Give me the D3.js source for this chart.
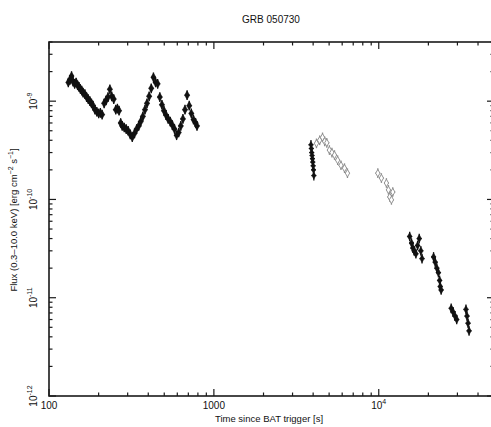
<!DOCTYPE html>
<html lang="en">
<head>
<meta charset="UTF-8">
<title>GRB 050730</title>
<script src="https://d3js.org/d3.v7.min.js"></script>
<style>
  body { margin: 0; background: #fff; }
  text { font-family: "Liberation Sans", Arial, sans-serif; fill: #111; }
</style>
</head>
<body>
<script>
// data (time in s, flux in erg cm^-2 s^-1)
var earlyTime = [131,134,137,140,143,146,149,152,155,158,161,165,169,173,177,181,185,190,195,200,205,210,216,222,228,234,240,247,254,260,266,272,278,286,294,302,311,320,330,340,350,360,371,382,393,405,417,430,443,456,470,484,498,513,528,544,560,577,594,612,630,649,668,688,709,730,752,775,790];
var earlyFlux = [1.55,1.65,1.80,1.58,1.50,1.55,1.45,1.40,1.33,1.28,1.22,1.18,1.10,1.05,1.00,0.95,0.90,0.82,0.78,0.75,0.76,0.73,0.95,1.02,1.10,1.32,1.12,1.05,0.82,0.84,0.80,0.60,0.56,0.54,0.52,0.50,0.46,0.43,0.47,0.52,0.56,0.62,0.70,0.82,0.95,1.12,1.35,1.75,1.55,1.50,1.10,0.92,0.80,0.72,0.66,0.62,0.57,0.52,0.45,0.48,0.56,0.66,0.82,1.15,0.90,0.75,0.65,0.60,0.56].map(function (v) { return v * 1e-9; });

var orbitTime = [3880,3900,3920,3940,3960,3980,4000,4020,4040];
var orbitFlux = [3.6,3.3,3.0,2.8,2.6,2.4,2.2,2.0,1.75].map(function (v) { return v * 1e-10; });

var greyTime = [4190,4380,4560,4700,4840,5020,5200,5390,5630,5900,6200,6460,9870,10380,11130,11450,11660,11940,12160];
var greyFlux = [3.72,4.0,4.28,3.9,3.77,3.18,3.0,2.83,2.51,2.23,2.08,1.85,1.85,1.65,1.47,1.25,1.06,0.99,1.19].map(function (v) { return v * 1e-10; });

var lateTime = [15400,15800,16100,16400,16800,17200,17600,18000,18300,21500,22000,22500,23000,23400,23600,23900,27500,28200,29000,29700,33800,34300,34800,35300];
var lateFlux = [4.2,3.6,3.2,3.0,2.8,3.4,4.0,3.0,2.5,2.6,2.3,2.0,1.8,1.5,1.3,1.2,0.78,0.72,0.65,0.60,0.76,0.65,0.55,0.46].map(function (v) { return v * 1e-11; });

var xTickValues = [100, 1000, 10000];
var xTickLabels = ["100", "1000", "10^4"];
var yTickValues = [1e-12, 1e-11, 1e-10, 1e-9];
var yTickLabels = ["10^-12", "10^-11", "10^-10", "10^-9"];

var W = 491, H = 427;
var svg = d3.select("body").append("svg").attr("width", W).attr("height", H);

var x = d3.scaleLog().domain([100, 5e4]).range([49, 494]);
var y = d3.scaleLog().domain([1e-12, 4e-9]).range([396, 42]);

var ink = "#1a1a1a";

// minor / major ticks
var xMinor = [], yMinor = [];
[100, 1000, 10000].forEach(function (d) {
  for (var k = 2; k <= 9; k++) if (d * k <= 5e4) xMinor.push(d * k);
});
[1e-12, 1e-11, 1e-10, 1e-9].forEach(function (d) {
  for (var k = 2; k <= 9; k++) if (d * k <= 4e-9) yMinor.push(d * k);
});

var ticks = svg.append("g").attr("stroke", ink).attr("stroke-width", 1.2);
xTickValues.concat(xMinor).forEach(function (d) {
  var len = xTickValues.indexOf(d) >= 0 ? 7 : 3.5;
  ticks.append("line").attr("x1", x(d)).attr("x2", x(d)).attr("y1", 396).attr("y2", 396 - len);
  ticks.append("line").attr("x1", x(d)).attr("x2", x(d)).attr("y1", 42).attr("y2", 42 + len);
});
yTickValues.concat(yMinor).forEach(function (d) {
  var len = yTickValues.indexOf(d) >= 0 ? 7 : 3.5;
  ticks.append("line").attr("x1", 49).attr("x2", 49 + len).attr("y1", y(d)).attr("y2", y(d));
  ticks.append("line").attr("x1", 494).attr("x2", 494 - len).attr("y1", y(d)).attr("y2", y(d));
});

// frame
svg.append("rect").attr("x", 49).attr("y", 42).attr("width", 445).attr("height", 354)
  .attr("fill", "none").attr("stroke", ink).attr("stroke-width", 1.6);

function powLabel(sel, s) {
  var parts = s.split("^");
  sel.append("tspan").text(parts[0]);
  if (parts[1]) sel.append("tspan").attr("dy", -5).attr("font-size", 7).text(parts[1]);
}

// x tick labels
xTickValues.forEach(function (d, i) {
  var t = svg.append("text").attr("x", x(d)).attr("y", 409)
    .attr("text-anchor", "middle").attr("font-size", 10);
  powLabel(t, xTickLabels[i]);
});

// y tick labels (rotated)
yTickValues.forEach(function (d, i) {
  var t = svg.append("text")
    .attr("transform", "translate(37," + y(d) + ") rotate(-90)")
    .attr("text-anchor", "middle").attr("font-size", 10);
  powLabel(t, yTickLabels[i]);
});

// titles
svg.append("text").attr("x", 271).attr("y", 23).attr("text-anchor", "middle")
  .attr("font-size", 10).text("GRB 050730");
svg.append("text").attr("x", 269).attr("y", 422).attr("text-anchor", "middle")
  .attr("font-size", 9.5).text("Time since BAT trigger [s]");

var yl = svg.append("text").attr("transform", "translate(17,220) rotate(-90)")
  .attr("text-anchor", "middle").attr("font-size", 9.5);
yl.append("tspan").text("Flux (0.3\u201310.0 keV) [erg cm");
yl.append("tspan").attr("dy", -4).attr("font-size", 7).text("\u22122");
yl.append("tspan").attr("dy", 4).text(" s");
yl.append("tspan").attr("dy", -4).attr("font-size", 7).text("\u22121");
yl.append("tspan").attr("dy", 4).text("]");

// data points with error bars
var diamond = d3.symbol().type(d3.symbolDiamond);

function drawSet(ts, fs, colour, open, size) {
  var pts = ts.map(function (t, i) { return { t: t, f: fs[i] }; });
  var g = svg.append("g");
  g.selectAll("line.ev").data(pts).enter().append("line")
    .attr("x1", function (d) { return x(d.t); }).attr("x2", function (d) { return x(d.t); })
    .attr("y1", function (d) { return y(d.f * 1.12); }).attr("y2", function (d) { return y(d.f / 1.12); })
    .attr("stroke", colour).attr("stroke-width", 1.3);
  g.selectAll("line.eh").data(pts).enter().append("line")
    .attr("x1", function (d) { return x(d.t) - 2.5; }).attr("x2", function (d) { return x(d.t) + 2.5; })
    .attr("y1", function (d) { return y(d.f); }).attr("y2", function (d) { return y(d.f); })
    .attr("stroke", colour).attr("stroke-width", 1.3);
  g.selectAll("path").data(pts).enter().append("path")
    .attr("transform", function (d) { return "translate(" + x(d.t) + "," + y(d.f) + ")"; })
    .attr("d", diamond.size(size))
    .attr("fill", open ? "#fff" : colour)
    .attr("stroke", colour).attr("stroke-width", open ? 0.9 : 0.5);
}

drawSet(earlyTime, earlyFlux, "#111", false, 22);
drawSet(orbitTime, orbitFlux, "#111", false, 14);
drawSet(greyTime, greyFlux, "#8a8a8a", true, 16);
drawSet(lateTime, lateFlux, "#111", false, 18);
</script>
</body>
</html>
